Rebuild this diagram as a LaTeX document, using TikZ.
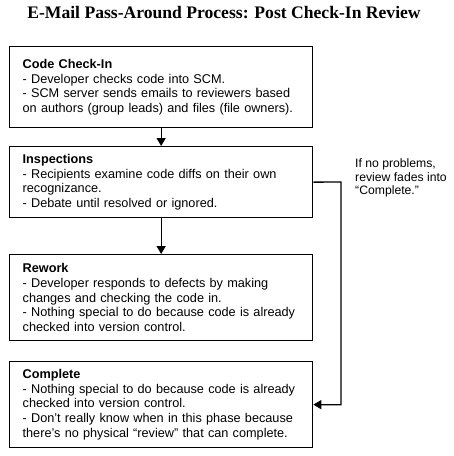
\documentclass[tikz,border=0pt]{standalone}
\usepackage{fontspec}
\setmainfont{Liberation Sans}
\newfontfamily\titlefont{Liberation Serif}
\usetikzlibrary{arrows.meta}

\tikzset{
  stagebox/.style={draw,line width=1.3pt,anchor=north west,
    minimum width=303pt,text width=277pt,inner xsep=13pt,inner ysep=0pt,
    align=left,font=\fontsize{12.7}{14.7}\selectfont},
  flow/.style={line width=1.3pt,-{Triangle[length=8pt,width=9pt]}},
  note/.style={anchor=west,inner sep=0pt,align=left,
    font=\fontsize{12.2}{13.6}\selectfont},
}

\begin{document}
\begin{tikzpicture}[x=1pt,y=-1pt]
  \useasboundingbox (0,0) rectangle (454,456);
  \pgfmathsetmacro\boxleft{9}

  \node[font=\titlefont\bfseries\fontsize{17.6}{18}\selectfont] (title) at (224,13)
    {E-Mail Pass-Around Process: Post Check-In Review};

  \node[stagebox,minimum height=81pt] (checkin) at (\boxleft,46)
    {\textbf{Code Check-In}\\
     - Developer checks code into SCM.\\
     - SCM server sends emails to reviewers based\\
     on authors (group leads) and files (file owners).};
  \node[stagebox,minimum height=71pt] (insp) at (\boxleft,146)
    {\textbf{Inspections}\\
     - Recipients examine code diffs on their own\\
     recognizance.\\
     - Debate until resolved or ignored.};
  \node[stagebox,minimum height=86pt] (rework) at (\boxleft,254)
    {\textbf{Rework}\\
     - Developer responds to defects by making\\
     changes and checking the code in.\\
     - Nothing special to do because code is already\\
     checked into version control.};
  \node[stagebox,minimum height=86pt] (done) at (\boxleft,361)
    {\textbf{Complete}\\
     - Nothing special to do because code is already\\
     checked into version control.\\
     - Don’t really know when in this phase because\\
     there’s no physical “review” that can complete.};

  \draw[flow] (checkin.south) -- (insp.north);
  \draw[flow] (insp.south) -- (rework.north);

  \coordinate (bypass) at (341,182);
  \draw[flow] (insp.east) -- (bypass) |- (done.east);

  \node[note] (fade) at (355,178)
    {If no problems,\\review fades into\\“Complete.”};
\end{tikzpicture}
\end{document}
